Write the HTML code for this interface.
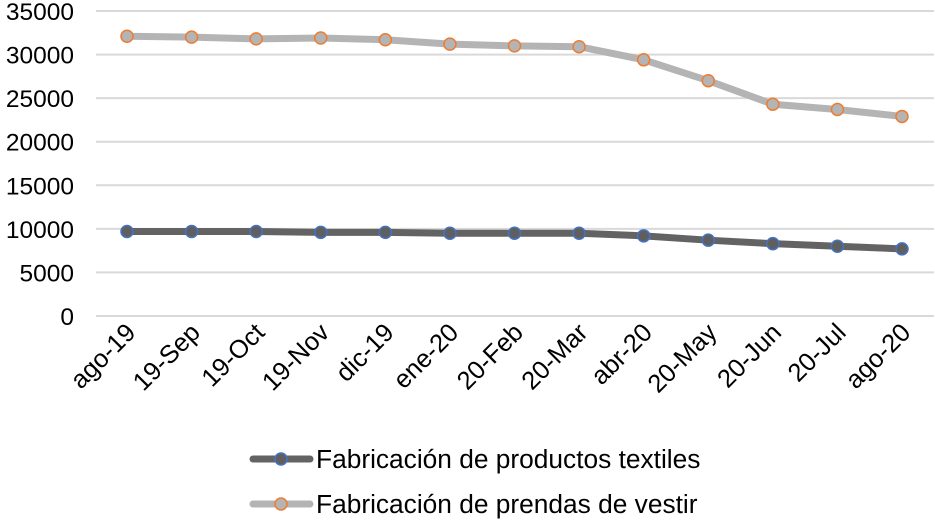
<!DOCTYPE html>
<html><head><meta charset="utf-8"><style>
body{margin:0;background:#fff;}
svg{display:block;font-family:"Liberation Sans",Arial,sans-serif;}
</style></head><body>
<svg id="chart" width="935" height="521" viewBox="0 0 935 521">
<g id="grid"></g>
<g id="yticks"></g>
<g id="xticks"></g>
<g id="series"></g>
<g>
 <g>
  <line x1="253" y1="459" x2="310" y2="459" stroke="#636363" stroke-width="7" stroke-linecap="round"/>
  <circle cx="281" cy="459" r="6" fill="#5f5f5f" stroke="#4472c4" stroke-width="1.5"/>
  <text x="316" y="468" font-size="26.3" fill="#000">Fabricación de productos textiles</text>
 </g>
 <g>
  <line x1="253" y1="504" x2="310" y2="504" stroke="#b4b4b4" stroke-width="7" stroke-linecap="round"/>
  <circle cx="281" cy="504" r="6" fill="#b4b4b4" stroke="#ed7d31" stroke-width="1.5"/>
  <text x="316" y="513" font-size="26.3" fill="#000">Fabricación de prendas de vestir</text>
 </g>
</g>
</svg>
<script>
const categories=["ago-19","19-Sep","19-Oct","19-Nov","dic-19","ene-20","20-Feb","20-Mar","abr-20","20-May","20-Jun","20-Jul","ago-20"];
const textiles=[9700,9700,9700,9600,9600,9500,9500,9500,9200,8700,8300,8000,7700];
const prendas=[32100,32000,31800,31900,31700,31200,31000,30900,29400,27000,24300,23700,22900];
const yTicks=[0,5000,10000,15000,20000,25000,30000,35000];
const NS="http://www.w3.org/2000/svg";
const y=v=>316-v*(305/35000);
const x=i=>127+i*(775/12);
function mk(t,a,p){const e=document.createElementNS(NS,t);for(const k in a)e.setAttribute(k,a[k]);p.appendChild(e);return e;}
const grid=document.getElementById('grid'),yt=document.getElementById('yticks'),xt=document.getElementById('xticks'),ser=document.getElementById('series');
yTicks.forEach(v=>{
 const l=mk('line',{x1:96,x2:934,y1:y(v),y2:y(v),stroke:'#d9d9d9','stroke-width':2},grid);
 
 
 const t=mk('text',{x:74,y:y(v)+9,'text-anchor':'end','font-size':24.5,fill:'#000'},yt);
 t.textContent=v;
 
 
});
categories.forEach((c,i)=>{
 const t=mk('text',{x:0,y:0,'text-anchor':'end','font-size':25.5,fill:'#000',transform:`translate(${x(i)+10},${334}) rotate(-45)`},xt);
 t.textContent=c;
 
 
});
function drawSeries(vals,color,mfill,mstroke,name){
 const g=mk('g',{},ser);
 
 
 const p=mk('polyline',{points:vals.map((v,i)=>x(i)+','+y(v)).join(' '),fill:'none',stroke:color,'stroke-width':7,'stroke-linejoin':'round','stroke-linecap':'round'},g);
 
 
 vals.forEach((v,i)=>{
  const c=mk('circle',{cx:x(i),cy:y(v),r:6,fill:mfill,stroke:mstroke,'stroke-width':1.5},g);
  
  
 });
}
drawSeries(prendas,'#b4b4b4','#b4b4b4','#ed7d31','prendas-series');
drawSeries(textiles,'#636363','#5f5f5f','#4472c4','textiles-series');
</script>
</body></html>
